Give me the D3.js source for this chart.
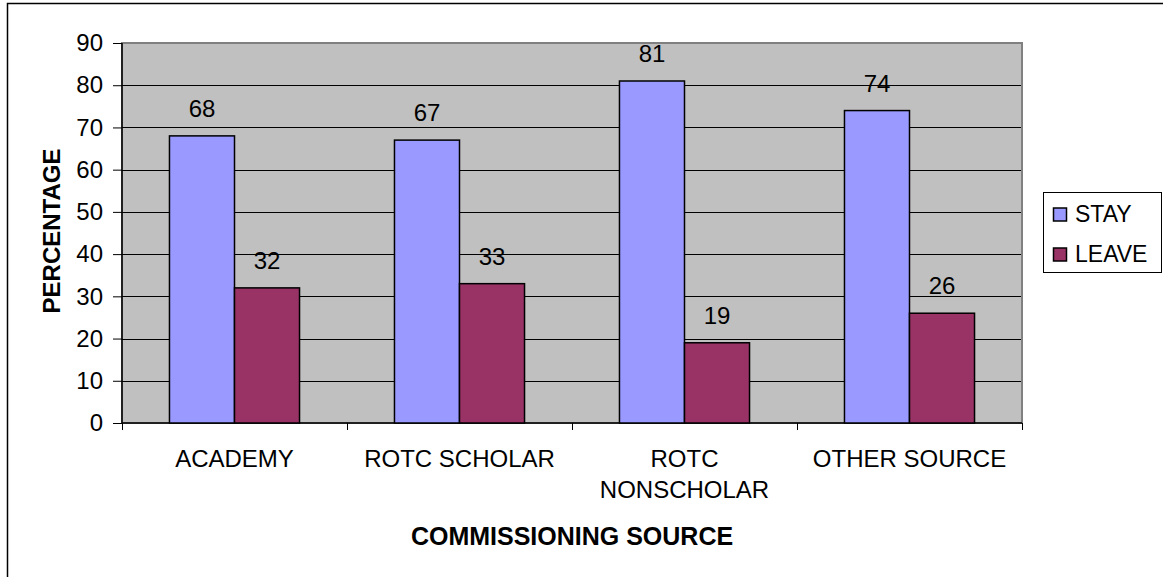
<!DOCTYPE html>
<html>
<head>
<meta charset="utf-8">
<script src="https://cdn.jsdelivr.net/npm/d3@7/dist/d3.min.js"></script>
<style>
  html, body { margin: 0; padding: 0; background: #fff; }
  svg { display: block; font-family: "Liberation Sans", Arial, sans-serif; }
</style>
</head>
<body>
<svg id="chart" width="1163" height="577"></svg>
<script>
// Retention by commissioning source (percent)
const categories = [["ACADEMY"], ["ROTC SCHOLAR"], ["ROTC", "NONSCHOLAR"], ["OTHER SOURCE"]];
const seriesNames = ["STAY", "LEAVE"];
const stayValues = [68, 67, 81, 74];
const leaveValues = [32, 33, 19, 26];
const yTicks = [0, 10, 20, 30, 40, 50, 60, 70, 80, 90];
const colors = ["#9999FF", "#993366"];

const svg = d3.select("#chart");
const plot = { left: 122, right: 1022, top: 43, bottom: 423 };

// outer frame (top and left edges)
svg.append("path")
  .attr("d", "M7.5,577 L7.5,3.5 L1163,3.5")
  .attr("fill", "none").attr("stroke", "#000").attr("stroke-width", 1.5);

const x0 = d3.scaleBand()
  .domain(d3.range(categories.length))
  .range([plot.left, plot.right])
  .paddingInner(0).paddingOuter(0);
const groupW = x0.bandwidth();
const barW = groupW / (2 + 1.46);
const x1 = d3.scaleBand().domain(seriesNames).range([0, barW * 2]);

const y = d3.scaleLinear().domain([0, 90]).range([plot.bottom, plot.top]);

// plot area
svg.append("rect")
  .attr("x", plot.left).attr("y", plot.top)
  .attr("width", plot.right - plot.left).attr("height", plot.bottom - plot.top)
  .attr("fill", "#C0C0C0").attr("stroke", "#808080").attr("stroke-width", 2);

// gridlines
svg.append("g").selectAll("line")
  .data(yTicks.filter(t => t > 0 && t < 90))
  .join("line")
  .attr("x1", plot.left).attr("x2", plot.right - 1)
  .attr("y1", d => Math.round(y(d)) + 0.5).attr("y2", d => Math.round(y(d)) + 0.5)
  .attr("stroke", "#000").attr("stroke-width", 1);

// y axis
const yAxis = d3.axisLeft(y).tickValues(yTicks).tickSize(9).tickPadding(10).tickFormat(d3.format("d"));
const gy = svg.append("g").attr("transform", `translate(${plot.left},0)`).call(yAxis);
gy.select(".domain").attr("stroke", "#000").attr("stroke-width", 1.5).attr("d", `M0,${plot.top}V${plot.bottom}`);
gy.selectAll(".tick line").attr("stroke", "#000");
gy.selectAll(".tick text").attr("font-size", 24).attr("fill", "#000")
  .attr("font-family", "Liberation Sans, Arial, sans-serif");

// x axis with ticks at group boundaries
const xb = d3.scaleLinear().domain([0, categories.length]).range([plot.left, plot.right]);
const gx = svg.append("g").attr("transform", `translate(0,${plot.bottom})`)
  .call(d3.axisBottom(xb).tickValues(d3.range(categories.length + 1)).tickSize(7).tickFormat(""));
gx.select(".domain").attr("stroke", "#000").attr("stroke-width", 1.5).attr("d", `M${plot.left},0H${plot.right}`);
gx.selectAll(".tick line").attr("stroke", "#000");

// category labels
const catG = svg.append("g");
categories.forEach((lines, i) => {
  const t = catG.append("text")
    .attr("x", x0(i) + groupW / 2).attr("y", 467)
    .attr("text-anchor", "middle").attr("font-size", 24).attr("fill", "#000");
  lines.forEach((ln, j) => {
    t.append("tspan").attr("x", x0(i) + groupW / 2).attr("dy", j === 0 ? 0 : 31).text(ln);
  });
});

// bars
const data = categories.map((c, i) => ({ i, vals: [stayValues[i], leaveValues[i]] }));
const groups = svg.append("g").selectAll("g")
  .data(data).join("g")
  .attr("transform", d => `translate(${x0(d.i) + (groupW - barW * 2) / 2},0)`);

groups.selectAll("rect")
  .data(d => d.vals.map((v, k) => ({ k, v })))
  .join("rect")
  .attr("x", d => x1(seriesNames[d.k]))
  .attr("y", d => y(d.v))
  .attr("width", x1.bandwidth())
  .attr("height", d => y(0) - y(d.v))
  .attr("fill", d => colors[d.k])
  .attr("stroke", "#000").attr("stroke-width", 1.5);

groups.selectAll("text")
  .data(d => d.vals.map((v, k) => ({ k, v })))
  .join("text")
  .attr("x", d => x1(seriesNames[d.k]) + x1.bandwidth() / 2)
  .attr("y", d => y(d.v) - 19)
  .attr("text-anchor", "middle").attr("font-size", 24).attr("fill", "#000")
  .text(d => d.v);

// axis titles
svg.append("text")
  .attr("x", (plot.left + plot.right) / 2).attr("y", 545)
  .attr("text-anchor", "middle").attr("font-size", 25).attr("font-weight", "bold")
  .text("COMMISSIONING SOURCE");

svg.append("text")
  .attr("transform", `translate(60,231) rotate(-90)`)
  .attr("text-anchor", "middle").attr("font-size", 24).attr("font-weight", "bold")
  .text("PERCENTAGE");

// legend
const lg = svg.append("g");
lg.append("rect").attr("x", 1043.5).attr("y", 192.5).attr("width", 118).attr("height", 80)
  .attr("fill", "#fff").attr("stroke", "#000").attr("stroke-width", 1);
seriesNames.forEach((name, k) => {
  const cy = 214.5 + k * 40;
  lg.append("rect").attr("x", 1053.5).attr("y", cy - 6.5).attr("width", 13).attr("height", 13)
    .attr("fill", colors[k]).attr("stroke", "#000").attr("stroke-width", 1.5);
  lg.append("text").attr("x", 1075).attr("y", cy + 7).attr("font-size", 23).text(name);
});
</script>
</body>
</html>
